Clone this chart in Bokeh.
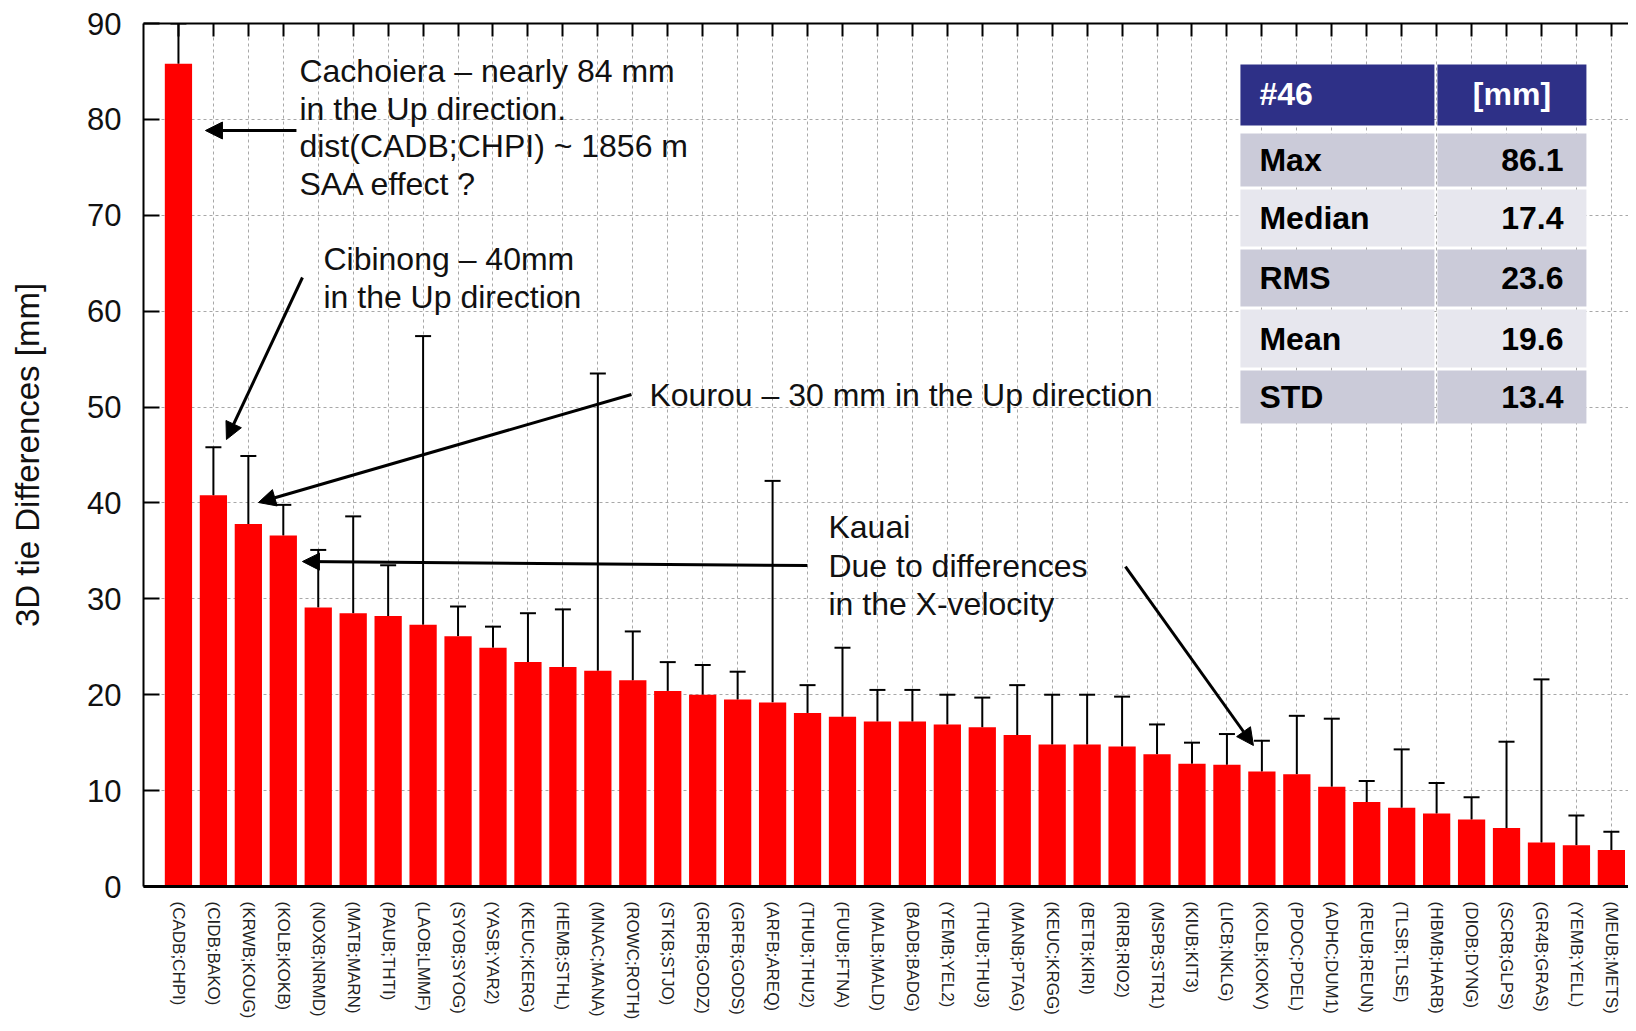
from bokeh.plotting import figure
from bokeh.models import (Range1d, FixedTicker, LinearAxis, Whisker, TeeHead,
                          Arrow, NormalHead, ColumnDataSource)
from bokeh.core.properties import value
from bokeh.embed import file_html
from bokeh.resources import INLINE

# ---------------- data ----------------
pairs = ["(CADB;CHPI)", "(CIDB;BAKO)", "(KRWB;KOUG)", "(KOLB;KOKB)", "(NOXB;NRMD)",
         "(MATB;MARN)", "(PAUB;THTI)", "(LAOB;LMMF)", "(SYOB;SYOG)", "(YASB;YAR2)",
         "(KEUC;KERG)", "(HEMB;STHL)", "(MNAC;MANA)", "(ROWC;ROTH)", "(STKB;STJO)",
         "(GRFB;GODZ)", "(GRFB;GODS)", "(ARFB;AREQ)", "(THUB;THU2)", "(FUUB;FTNA)",
         "(MALB;MALD)", "(BADB;BADG)", "(YEMB;YEL2)", "(THUB;THU3)", "(MANB;PTAG)",
         "(KEUC;KRGG)", "(BETB;KIRI)", "(RIRB;RIO2)", "(MSPB;STR1)", "(KIUB;KIT3)",
         "(LICB;NKLG)", "(KOLB;KOKV)", "(PDOC;PDEL)", "(ADHC;DUM1)", "(REUB;REUN)",
         "(TLSB;TLSE)", "(HBMB;HARB)", "(DIOB;DYNG)", "(SCRB;GLPS)", "(GR4B;GRAS)",
         "(YEMB;YELL)", "(MEUB;METS)"]
diffs = [85.8, 40.8, 37.8, 36.6, 29.1, 28.5, 28.2, 27.3, 26.1, 24.9,
         23.4, 22.9, 22.5, 21.5, 20.4, 20.0, 19.5, 19.2, 18.1, 17.7,
         17.2, 17.2, 16.9, 16.6, 15.8, 14.8, 14.8, 14.6, 13.8, 12.8,
         12.7, 12.0, 11.7, 10.4, 8.8, 8.2, 7.6, 7.0, 6.1, 4.6,
         4.3, 3.8]
upper = [90.0, 45.8, 44.9, 39.8, 35.1, 38.6, 33.5, 57.4, 29.2, 27.1,
         28.5, 28.9, 53.5, 26.6, 23.4, 23.1, 22.4, 42.3, 21.0, 24.9,
         20.5, 20.5, 20.0, 19.7, 21.0, 20.0, 20.0, 19.8, 16.9, 15.0,
         15.9, 15.2, 17.8, 17.5, 11.0, 14.3, 10.8, 9.3, 15.1, 21.6,
         7.4, 5.7]
y_ticks = [0, 10, 20, 30, 40, 50, 60, 70, 80, 90]
header_labels = ["#46", "[mm]"]
stat_names = ["Max", "Median", "RMS", "Mean", "STD"]
stat_values = ["86.1", "17.4", "23.6", "19.6", "13.4"]

FONT = "Liberation Sans"
xs = list(range(1, len(pairs) + 1))

p = figure(width=1628, height=1023, output_backend="svg", toolbar_location=None,
           x_range=Range1d(0, 42.49), y_range=Range1d(0, 90),
           min_border_left=143, min_border_right=0, min_border_top=23,
           min_border_bottom=137, outline_line_color=None,
           background_fill_color="white", border_fill_color="white")

# ---- axes ----
p.xaxis.ticker = FixedTicker(ticks=xs)
p.xaxis.major_label_overrides = {x: lab for x, lab in zip(xs, pairs)}
p.xaxis.major_label_orientation = "vertical"
p.xaxis.major_label_text_font = FONT
p.xaxis.major_label_text_font_size = "17px"
p.xaxis.major_label_text_color = "#222222"
p.xaxis.major_label_standoff = 15
p.xaxis.major_tick_in = 0
p.xaxis.major_tick_out = 0
p.xaxis.minor_tick_line_color = None
p.xaxis.axis_line_width = 3
p.xaxis.axis_line_color = "black"

p.yaxis.ticker = FixedTicker(ticks=y_ticks)
p.yaxis.major_label_text_font = FONT
p.yaxis.major_label_text_font_size = "31px"
p.yaxis.major_label_text_color = "#111111"
p.yaxis.major_label_standoff = 22
p.yaxis.major_tick_in = 16
p.yaxis.major_tick_out = 0
p.yaxis.major_tick_line_width = 2
p.yaxis.minor_tick_line_color = None
p.yaxis.axis_line_width = 2
p.yaxis.axis_label = "3D tie Differences [mm]"
p.yaxis.axis_label_text_font = FONT
p.yaxis.axis_label_text_font_size = "33px"
p.yaxis.axis_label_text_font_style = "normal"
p.yaxis.axis_label_text_color = "#111111"
p.yaxis.axis_label_standoff = 38

top_axis = LinearAxis(ticker=FixedTicker(ticks=xs), major_tick_in=13, major_tick_out=0,
                      major_tick_line_width=2, minor_tick_line_color=None,
                      axis_line_width=2, major_label_text_font_size="1px",
                      major_label_text_color=None, major_label_standoff=0)
p.add_layout(top_axis, "above")

# ---- grid ----
p.xgrid.ticker = FixedTicker(ticks=xs)
p.ygrid.ticker = FixedTicker(ticks=y_ticks[1:-1])
for g in (p.xgrid, p.ygrid):
    g.grid_line_color = "#a8a8a8"
    g.grid_line_dash = "3 3"
    g.grid_line_width = 1

# ---- bars and error bars ----
src = ColumnDataSource(dict(x=xs, val=diffs, up=upper))
p.vbar(x="x", top="val", width=0.78, source=src, fill_color="#ff0000",
       line_color=None)
p.add_layout(Whisker(source=src, base="x", lower="val", upper="up",
                     line_color="black", line_width=2,
                     upper_head=TeeHead(size=16, line_width=2, line_color="black"),
                     lower_head=TeeHead(size=0, line_alpha=0)))

# ---- helpers: pixel layout -> data coords ----
def px(xp):
    return 1 + (xp - 177) / 34.95

def py(yp):
    return (886 - yp) / 9.589

# ---- annotation texts ----
ann_lines = ["Cachoiera \u2013 nearly 84 mm", "in the Up direction.",
             "dist(CADB;CHPI) ~ 1856 m", "SAA effect ?",
             "Cibinong \u2013 40mm", "in the Up direction",
             "Kourou \u2013 30 mm in the Up direction",
             "Kauai", "Due to differences", "in the X-velocity"]
ann_x = [px(298)] * 4 + [px(322)] * 2 + [px(648)] + [px(827)] * 3
base_px = [82, 119.7, 157.4, 195.1, 270, 308, 406, 538, 576.5, 615]
ann_y = [py(b - 11.5) for b in base_px]
p.text(x=ann_x, y=ann_y, text=ann_lines, text_font=value(FONT),
       text_font_size=value("32px"), text_color="#111111",
       text_baseline="alphabetic", text_align="left")

arrows = [((295, 130), (204, 130)),
          ((301, 277), (225, 439)),
          ((630, 394), (257, 502)),
          ((806, 565), (301, 561)),
          ((1124, 566), (1252, 745))]
for (sx, sy), (ex, ey) in arrows:
    p.add_layout(Arrow(end=NormalHead(size=17, fill_color="black", line_color="black"),
                       x_start=px(sx), y_start=py(sy), x_end=px(ex), y_end=py(ey),
                       line_width=3, line_color="black"))

# ---- statistics table ----
col_l = [px(1239), px(1436)]
col_r = [px(1433), px(1585)]
hdr_top, hdr_bot = py(64), py(125)
row_tops = [py(133), py(189), py(249), py(309), py(370)]
row_bots = [py(186), py(246), py(306), py(367), py(423)]
row_cols = ["#cbcbd9", "#e7e7ee", "#cbcbd9", "#e7e7ee", "#cbcbd9"]

p.quad(left=col_l, right=col_r, top=[hdr_top] * 2, bottom=[hdr_bot] * 2,
       fill_color="#2e3087", line_color=None)
for i in range(len(stat_names)):
    p.quad(left=col_l, right=col_r, top=[row_tops[i]] * 2, bottom=[row_bots[i]] * 2,
           fill_color=row_cols[i], line_color=None)

hdr_mid = (hdr_top + hdr_bot) / 2 + 0.15
p.text(x=[px(1258)], y=[hdr_mid], text=[header_labels[0]], text_font=value(FONT),
       text_font_size=value("32px"), text_font_style="bold", text_color="white",
       text_baseline="middle", text_align="left")
p.text(x=[(col_l[1] + col_r[1]) / 2], y=[hdr_mid], text=[header_labels[1]],
       text_font=value(FONT), text_font_size=value("32px"), text_font_style="bold",
       text_color="white", text_baseline="middle", text_align="center")
row_mid = [(t + b) / 2 for t, b in zip(row_tops, row_bots)]
p.text(x=[px(1258)] * len(stat_names), y=row_mid, text=stat_names, text_font=value(FONT),
       text_font_size=value("32px"), text_font_style="bold", text_color="black",
       text_baseline="middle", text_align="left")
p.text(x=[px(1562)] * len(stat_values), y=row_mid, text=stat_values, text_font=value(FONT),
       text_font_size=value("32px"), text_font_style="bold", text_color="black",
       text_baseline="middle", text_align="right")

open("out.html", "w").write(file_html(p, INLINE))
